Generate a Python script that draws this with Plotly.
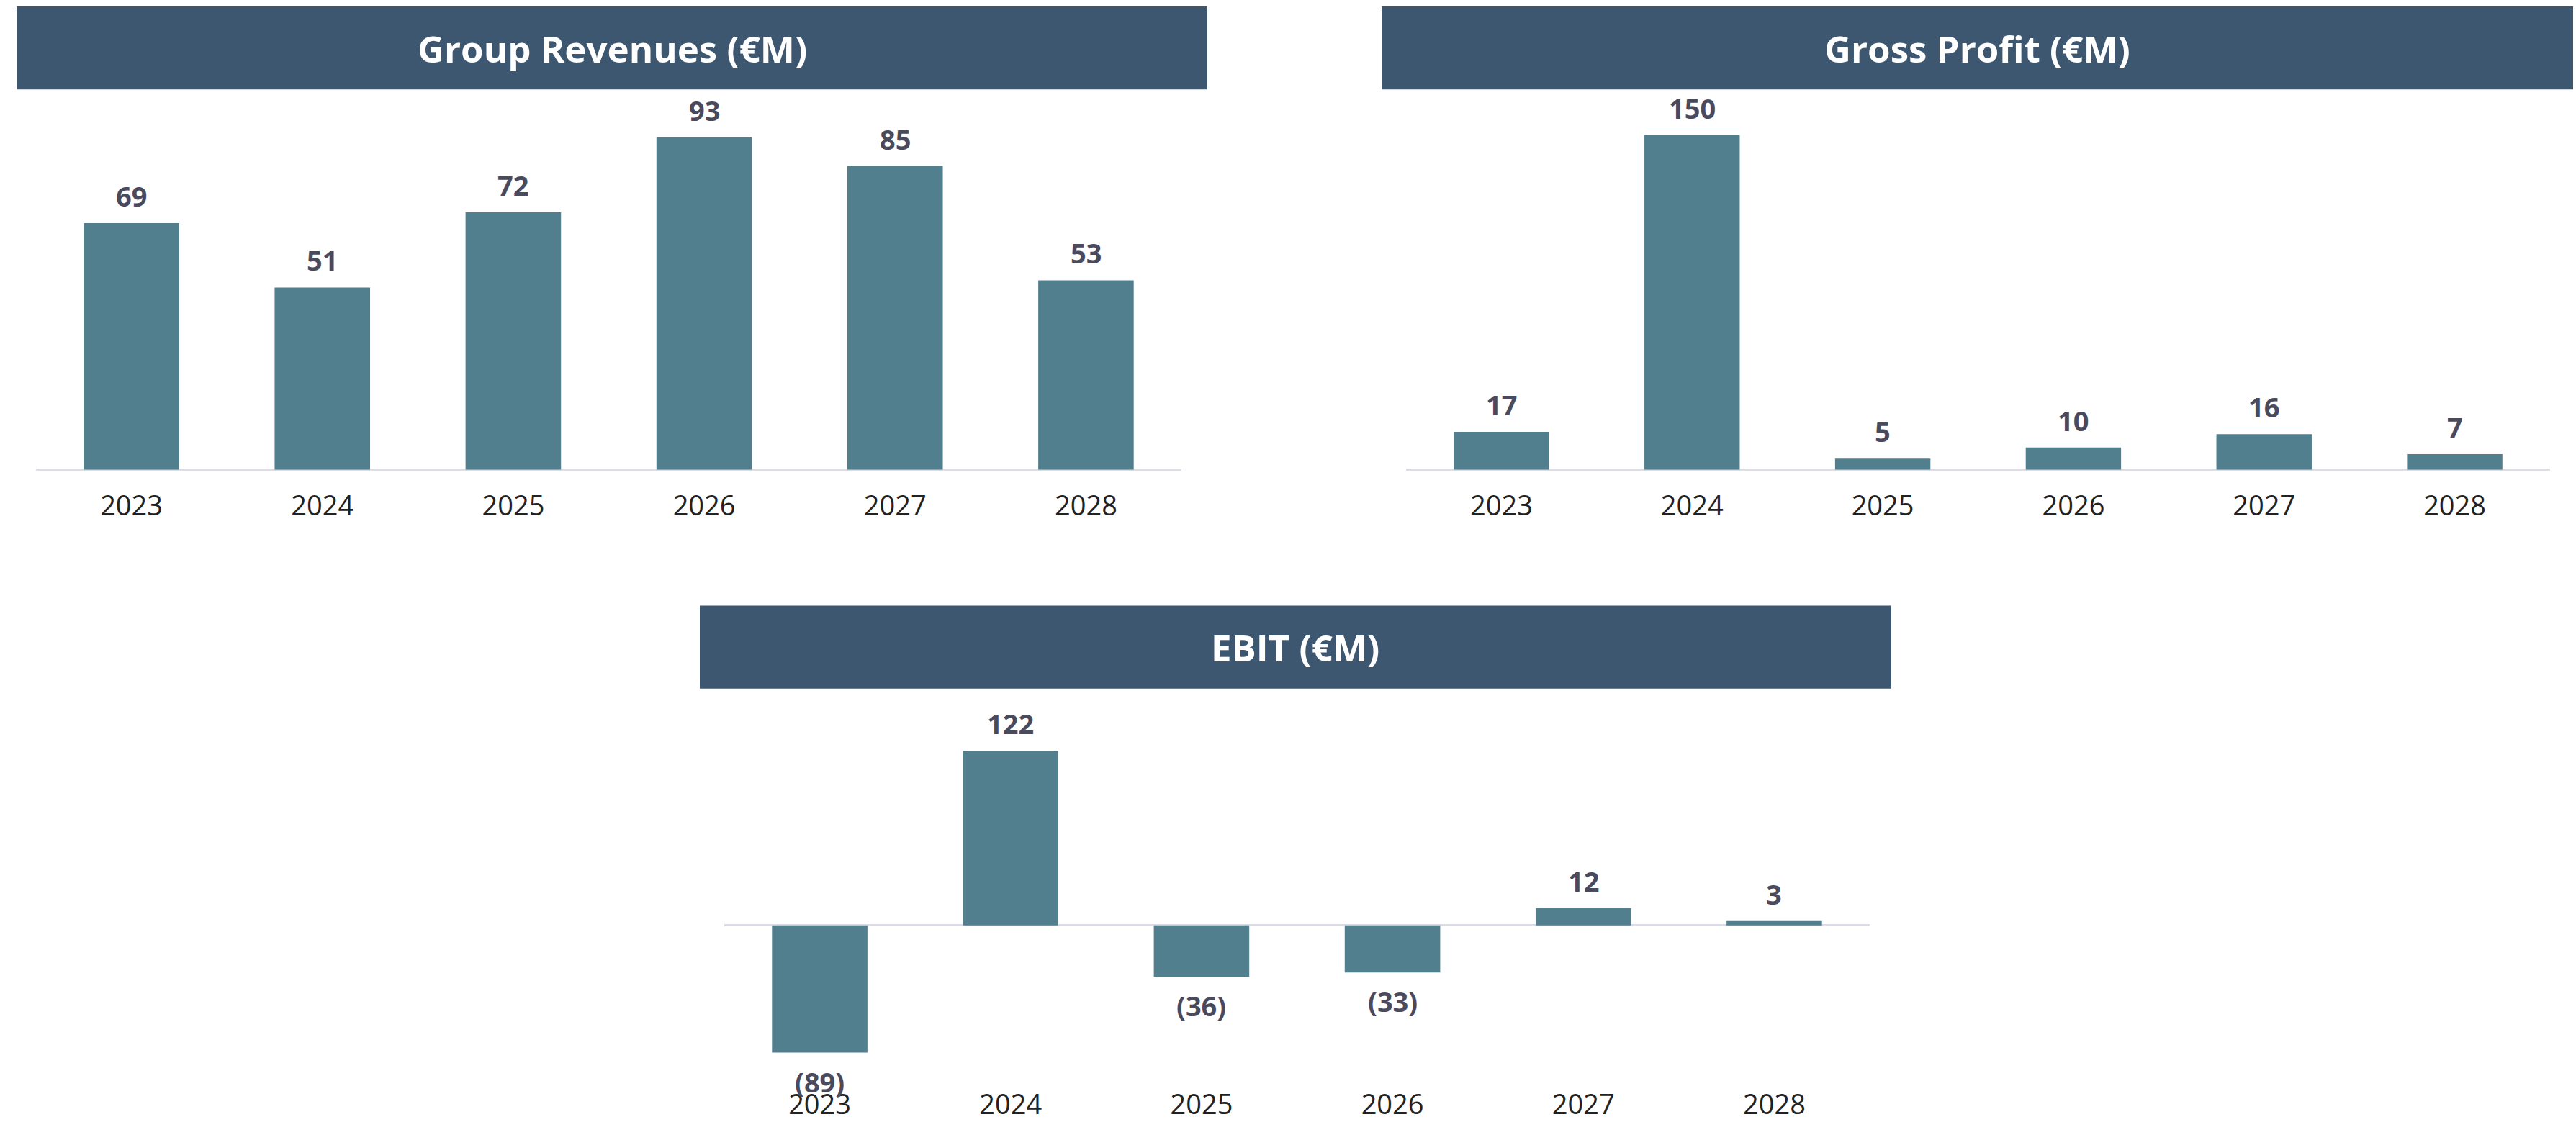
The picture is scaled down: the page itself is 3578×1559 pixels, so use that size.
import plotly.graph_objects as go

W, H = 3578, 1559

years = ["2023", "2024", "2025", "2026", "2027", "2028"]
revenues = [69, 51, 72, 93, 85, 53]
gross_profit = [17, 150, 5, 10, 16, 7]
ebit = [-89, 122, -36, -33, 12, 3]

titles = ["Group Revenues (€M)", "Gross Profit (€M)", "EBIT (€M)"]

BAR = "#517f8e"
HEAD = "#3d5771"
LABEL = "#4a4a5e"
TICK = "#222222"
ZERO = "#dcdce4"
FONT = "Open Sans"

def fx(p):
    return p / W

def fy(p):
    return 1 - p / H

# panel geometry in page pixels: (x0, x1, ytop, ybottom), y range, title bar (x0, x1, y0, y1)
panels = [
    dict(data=revenues, dom=(50, 1641, 140, 657), rng=[0, 103.4], head=(23, 1677, 9, 125)),
    dict(data=gross_profit, dom=(1953, 3542, 140, 657), rng=[0, 165.7], head=(1919, 3574, 9, 125)),
    dict(data=ebit, dom=(1006, 2597, 980, 1495), rng=[-100.5, 157], head=(972, 2627, 847, 963)),
]

def fmt(v):
    return f"({abs(v)})" if v < 0 else f"{v}"

fig = go.Figure()
shapes = []
annotations = []

for i, p in enumerate(panels):
    n = "" if i == 0 else str(i + 1)
    xa, ya = "x" + n, "y" + n
    fig.add_trace(go.Bar(
        x=years, y=p["data"], marker=dict(color=BAR, line=dict(width=0)),
        width=0.5, xaxis=xa, yaxis=ya, hoverinfo="skip", showlegend=False,
    ))
    x0, x1, yt, yb = p["dom"]
    fig.layout["xaxis" + n] = dict(
        domain=[fx(x0), fx(x1)], anchor=ya, type="category", range=[-0.5, 5.5],
        showgrid=False, zeroline=False, showline=False, ticks="",
        tickfont=dict(family=FONT, size=38, color=TICK), ticklabelstandoff=24,
        fixedrange=True,
    )
    fig.layout["yaxis" + n] = dict(
        domain=[fy(yb), fy(yt)], anchor=xa, range=p["rng"],
        showgrid=False, zeroline=True, zerolinecolor=ZERO, zerolinewidth=3,
        showticklabels=False, showline=False, ticks="", fixedrange=True,
    )
    for j, v in enumerate(p["data"]):
        annotations.append(dict(
            x=j, y=v, xref=xa, yref=ya, text=f"<b>{fmt(v)}</b>", showarrow=False,
            xanchor="center", yanchor="bottom" if v >= 0 else "top",
            yshift=10 if v >= 0 else -12,
            font=dict(family=FONT, size=38, color=LABEL),
        ))
    hx0, hx1, hy0, hy1 = p["head"]
    shapes.append(dict(type="rect", xref="paper", yref="paper",
                       x0=fx(hx0), x1=fx(hx1), y0=fy(hy1), y1=fy(hy0),
                       fillcolor=HEAD, line=dict(width=0), layer="below"))
    annotations.append(dict(
        x=fx((hx0 + hx1) / 2), y=fy((hy0 + hy1) / 2), xref="paper", yref="paper",
        text=f"<b>{titles[i]}</b>", showarrow=False, xanchor="center", yanchor="middle",
        font=dict(family=FONT, size=51, color="white"),
    ))

fig.update_layout(
    width=W, height=H, margin=dict(l=0, r=0, t=0, b=0),
    paper_bgcolor="white", plot_bgcolor="white",
    shapes=shapes, annotations=annotations, bargap=0.5,
)

page_css = (
    "var d=document.documentElement,b=document.body;"
    "d.style.margin='0';d.style.padding='0';d.style.overflow='hidden';d.style.height='1559px';"
    "b.style.margin='0';b.style.padding='0';b.style.overflow='hidden';b.style.height='1559px';"
)

fig.write_html(
    "out.html",
    config={"displayModeBar": False},
    post_script=page_css,
)
